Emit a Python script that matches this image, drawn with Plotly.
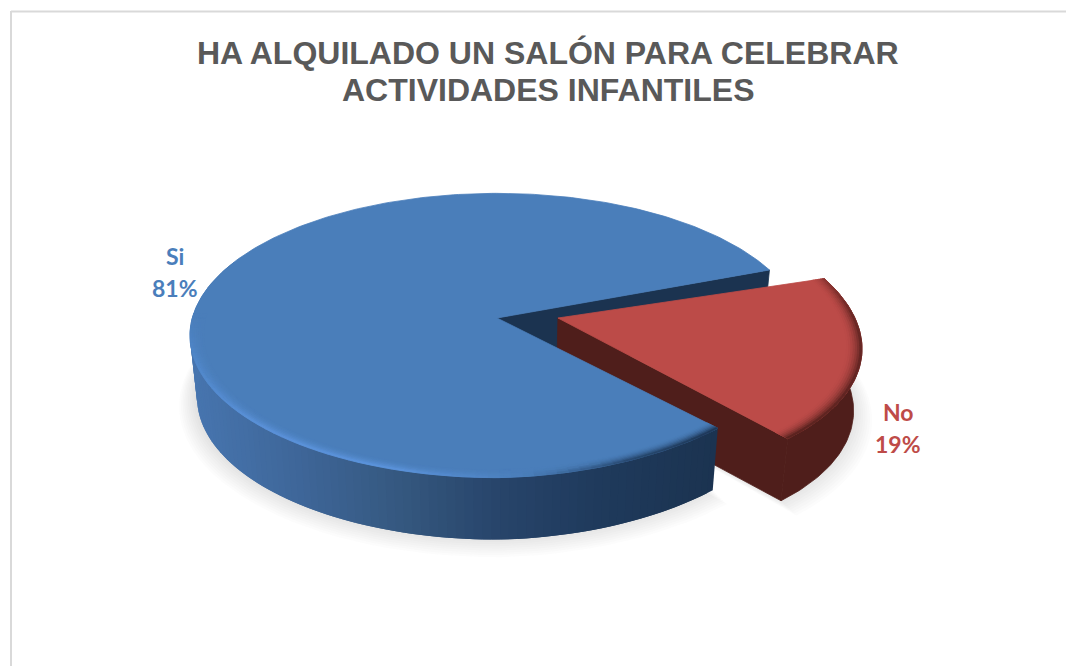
import math
import plotly.graph_objects as go

# Survey result
categories = ["Si", "No"]
values = [81, 19]
title_lines = ["HA ALQUILADO UN SALÓN PARA CELEBRAR", "ACTIVIDADES INFANTILES"]

# Tilted-disc view, expressed in plot units
CX, CY = 497.0, 318.0
SX, SY = 304.7, 140.0
PERSP = 0.123
WALL = 62.0
BASE_SHRINK = 0.977
SLICE_START = -21.0          # angle where the "No" slice begins, v pointing to the viewer
EXPLODE = (0.2, 0.0)
NO_TILT = 0.032
NO_SQUEEZE = 0.987

BLUE_TOP, RED_TOP = "#4A7EBA", "#BC4B48"
BLUE_DARK, RED_DARK = "#1B3350", "#4F1E1B"
BLUE_WALL = [(190, "#4775AF"), (300, "#3E6698"), (400, "#35587F"), (500, "#27446A"), (600, "#1F3A5C"), (720, "#1B3350")]
BLUE_EDGE = [(47, "#1D3655"), (66, "#27486F"), (85, "#4A7EBA"), (108, "#5B93DB"), (135, "#5A91D8"), (165, "#4F86C8"), (182, "#4A7EBA")]
RED_EDGE = [(-21, "#8E3633"), (-5, "#6A2825"), (47.5, "#5A2320")]


def rgb(hex_colour):
    return tuple(int(hex_colour[i:i + 2], 16) for i in (1, 3, 5))


def lerp(a, b, t):
    ca, cb = rgb(a), rgb(b)
    return "#%02X%02X%02X" % tuple(round(x + (y - x) * t) for x, y in zip(ca, cb))


def ramp(stops, x):
    if x <= stops[0][0]:
        return stops[0][1]
    for (x0, c0), (x1, c1) in zip(stops, stops[1:]):
        if x <= x1:
            return lerp(c0, c1, (x - x0) / (x1 - x0))
    return stops[-1][1]


def project(u, v, base=False, offset=(0.0, 0.0), tilt=0.0, squeeze=1.0, pinch=(0.0, 0.0)):
    u, v = u + offset[0], v + offset[1]
    d = 1 - PERSP * v
    x = CX + SX * u / d
    y = CY + SY * v / d
    # the front-right quadrant sits slightly inside a pure ellipse
    near_right = max(u, 0.0) * max(v, 0.0)
    x -= pinch[0] * near_right
    y -= pinch[1] * near_right
    pivot = CX + SX * offset[0]
    y += tilt * (x - pivot)
    x = pivot + (x - pivot) * squeeze
    if base:
        x = CX + (x - CX) * BASE_SHRINK
        y += WALL
    return x, y


def rim(theta, r=1.0, **kw):
    a = math.radians(theta)
    return project(r * math.cos(a), r * math.sin(a), **kw)


def arc(t0, t1, step=1.0):
    n = max(2, int(abs(t1 - t0) / step))
    return [t0 + (t1 - t0) * i / n for i in range(n + 1)]


fig = go.Figure()
groups = {}
order = []


def polygon_trace(points, colour, line_width=0.8):
    fig.add_trace(go.Scatter(x=[p[0] for p in points] + [points[0][0]], y=[p[1] for p in points] + [points[0][1]],
                             mode="lines", fill="toself", fillcolor=colour,
                             line=dict(color=colour, width=line_width), hoverinfo="skip", showlegend=False))


def add_poly(points, colour):
    if colour not in groups:
        groups[colour] = ([], [])
        order.append(colour)
    xs, ys = groups[colour]
    if xs:
        xs.append(None)
        ys.append(None)
    xs.extend(p[0] for p in points + points[:1])
    ys.extend(p[1] for p in points + points[:1])


def flush():
    for colour in order:
        xs, ys = groups[colour]
        fig.add_trace(go.Scatter(x=xs, y=ys, mode="lines", fill="toself", fillcolor=colour,
                                 line=dict(color=colour, width=0.8), hoverinfo="skip", showlegend=False))
    groups.clear()
    order.clear()


def soft_shadow(t0, t1, kw):
    for k in range(1, 11):
        pts = [rim(t, 1 + 0.0066 * k - 0.006, base=True, **kw) for t in arc(t0, t1, 3)]
        pts = [(x - 2 + 0.24 * k, y + 0.96 * k - 3) for x, y in pts]
        if t1 - t0 < 300:
            pts.append(project(0, 0, base=True, **kw))
        fig.add_trace(go.Scatter(x=[p[0] for p in pts] + [pts[0][0]], y=[p[1] for p in pts] + [pts[0][1]],
                                 mode="lines", fill="toself", fillcolor="rgba(90,90,90,0.021)",
                                 line=dict(width=0), hoverinfo="skip", showlegend=False))


def gradient_wall(t0, t1, stops, kw):
    # each strip runs under the next one, which keeps the gradient free of seams
    angles = arc(t0, t1, 1.5)
    for i, (a, b) in enumerate(zip(angles, angles[1:])):
        c = angles[min(i + 2, len(angles) - 1)]
        polygon_trace([rim(a, **kw), rim(c, **kw), rim(c, base=True, **kw), rim(a, base=True, **kw)],
                      ramp(stops, rim((a + b) / 2, **kw)[0]), 0)


def bevel(t0, t1, top, edge_stops, kw, inner=0.955, rings=7):
    angles = arc(t0, t1, 2)
    for i in range(rings):
        r0 = inner + (1 - inner) * i / rings
        r1 = inner + (1 - inner) * (i + 1) / rings
        f = ((i + 1) / rings) ** 2
        for a, b in zip(angles, angles[1:]):
            add_poly([rim(a, r0, **kw), rim(b, r0, **kw), rim(b, r1, **kw), rim(a, r1, **kw)],
                     lerp(top, ramp(edge_stops, (a + b) / 2), f))


# The smaller slice sets the angles; the rest of the disc wraps around it
no_sweep = 360.0 * values[1] / sum(values)
no_end = SLICE_START + no_sweep
si_end = SLICE_START + 360.0
red_kw = dict(offset=EXPLODE, tilt=NO_TILT, squeeze=NO_SQUEEZE)
blue_kw = dict(pinch=(12.0, 6.0))

# Ground shadows
soft_shadow(no_end, si_end, blue_kw)
soft_shadow(SLICE_START, no_end, red_kw)

# Cut face of the big slice, seen through the gap
polygon_trace([project(0, 0), rim(SLICE_START), rim(SLICE_START, base=True), project(0, 0, base=True)], BLUE_DARK)

# Exploded slice: walls, top face, bevel
polygon_trace([project(0, 0, **red_kw), rim(no_end, **red_kw), rim(no_end, base=True, **red_kw),
               project(0, 0, base=True, **red_kw)], RED_DARK)
no_angles = arc(SLICE_START, no_end)
polygon_trace([rim(t, **red_kw) for t in no_angles] + [rim(t, base=True, **red_kw) for t in reversed(no_angles)], RED_DARK)
polygon_trace([project(0, 0, **red_kw)] + [rim(t, **red_kw) for t in no_angles], RED_TOP)
bevel(SLICE_START, no_end, RED_TOP, RED_EDGE, red_kw, inner=0.95)
flush()

# Large slice: outer wall, top face, bevel
gradient_wall(no_end, 205, BLUE_WALL, blue_kw)
polygon_trace([project(0, 0, **blue_kw)] + [rim(t, **blue_kw) for t in arc(no_end, si_end)], BLUE_TOP)
bevel(no_end, 182, BLUE_TOP, BLUE_EDGE, blue_kw)
flush()

total = sum(values)
label_spots = {"Si": (175, 256, 288, "#4A7EBB"), "No": (898, 412, 444, "#BE4B48")}
annotations = []
for name, val in zip(categories, values):
    x, y_name, y_pct, colour = label_spots[name]
    for text, y in ((name, y_name), (f"{round(100 * val / total)}%", y_pct)):
        annotations.append(dict(x=x, y=y, xref="x", yref="y", text=text, showarrow=False,
                                xanchor="center", yanchor="middle",
                                font=dict(family="Lato", size=23, color=colour, weight=700)))

# Title, one annotation per line so the leading stays tight
for text, y in zip(title_lines, (53, 90)):
    annotations.append(dict(x=547.5, y=y, xref="x", yref="y", text=text, showarrow=False,
                            xanchor="center", yanchor="middle",
                            font=dict(family="Liberation Sans", size=32, color="#595959", weight=700)))

# Chart frame: top and left hairlines only reach the page edges
shapes = [
    dict(type="line", x0=11, x1=1066, y0=11.5, y1=11.5, xref="x", yref="y", line=dict(color="#D9D9D9", width=2)),
    dict(type="line", x0=11, x1=11, y0=11, y1=666, xref="x", yref="y", line=dict(color="#D9D9D9", width=2)),
]

fig.update_layout(
    width=1066, height=666, margin=dict(l=0, r=0, t=0, b=0),
    paper_bgcolor="white", plot_bgcolor="white", showlegend=False,
    xaxis=dict(range=[0, 1066], visible=False, fixedrange=True),
    yaxis=dict(range=[666, 0], visible=False, fixedrange=True),
    annotations=annotations, shapes=shapes,
)
fig.write_html("out.html", config=dict(displayModeBar=False))
